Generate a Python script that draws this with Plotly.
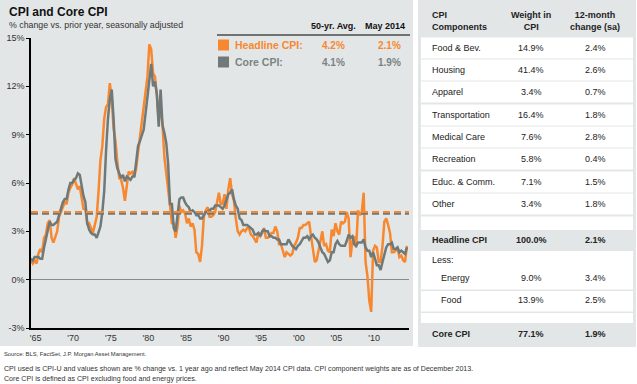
import plotly.graph_objects as go

W, H = 637, 384

# ---------------- data ----------------
# Quarterly readings (Feb, May, Aug, Nov), starting May 1964, ending May 2014
headline_cpi = [
    1.2, 1.0, 1.2,                 # 1964
    1.0, 1.6, 1.9, 1.7,            # 1965
    2.6, 2.8, 3.5, 3.7,            # 1966
    2.6, 2.3, 2.6, 3.0,            # 1967
    3.9, 4.2, 4.4, 4.8,            # 1968
    4.7, 5.4, 5.7, 5.9,            # 1969
    6.3, 6.0, 5.6, 5.8,            # 1970
    5.0, 4.4, 4.4, 3.4,            # 1971
    3.5, 3.2, 2.9, 3.4,            # 1972
    3.9, 5.5, 7.4, 8.3,            # 1973
    10.0, 10.7, 10.9, 12.2,        # 1974
    11.2, 9.4, 8.6, 7.3,           # 1975
    6.3, 6.2, 5.7, 4.9,            # 1976
    5.9, 6.7, 6.6, 6.7,            # 1977
    6.4, 6.9, 7.9, 8.9,            # 1978
    9.9, 10.8, 11.8, 12.6,         # 1979
    14.6, 14.3, 12.8, 12.6,        # 1980
    11.4, 9.8, 10.8, 9.6,          # 1981
    7.6, 6.7, 5.8, 4.6,            # 1982
    3.5, 3.5, 2.6, 3.3,            # 1983
    4.6, 4.2, 4.3, 4.1,            # 1984
    3.5, 3.8, 3.3, 3.5,            # 1985
    3.1, 1.7, 1.6, 1.1,            # 1986
    2.1, 3.9, 4.3, 4.5,            # 1987
    3.9, 3.9, 4.0, 4.2,            # 1988
    4.8, 5.4, 4.7, 4.7,            # 1989
    5.3, 4.4, 5.6, 6.3,            # 1990
    5.3, 4.9, 3.8, 3.0,            # 1991
    2.8, 3.0, 3.1, 3.0,            # 1992
    3.2, 3.2, 2.8, 2.7,            # 1993
    2.5, 2.3, 2.9, 2.7,            # 1994
    2.9, 3.2, 2.6, 2.6,            # 1995
    2.7, 2.9, 2.9, 3.3,            # 1996
    3.0, 2.2, 2.2, 1.8,            # 1997
    1.4, 1.7, 1.6, 1.5,            # 1998
    1.6, 2.1, 2.3, 2.6,            # 1999
    3.2, 3.2, 3.4, 3.4,            # 2000
    3.5, 3.6, 2.7, 1.9,            # 2001
    1.1, 1.2, 1.8, 2.2,            # 2002
    3.0, 2.1, 2.2, 1.8,            # 2003
    1.7, 3.1, 2.7, 3.5,            # 2004
    3.0, 2.8, 3.6, 3.5,            # 2005
    3.6, 4.2, 3.8, 1.4,            # 2006
    2.4, 2.7, 2.0, 4.3,            # 2007
    4.0, 4.2, 5.4, 1.1,            # 2008
    0.2, -1.3, -2.0, 1.8,          # 2009
    2.1, 2.0, 1.1, 1.1,            # 2010
    2.1, 3.6, 3.8, 3.4,            # 2011
    2.9, 1.7, 1.7, 1.8,            # 2012
    2.0, 1.4, 1.5, 1.2,            # 2013
    1.1, 2.1,                      # 2014
]
core_cpi = [
    1.3, 1.2, 1.4,                 # 1964
    1.4, 1.4, 1.3, 1.3,            # 1965
    2.0, 2.6, 3.2, 3.6,            # 1966
    3.4, 3.4, 3.5, 3.6,            # 1967
    4.0, 4.4, 4.8, 5.0,            # 1968
    5.0, 5.6, 6.0, 6.0,            # 1969
    6.2, 6.3, 6.6, 6.5,            # 1970
    5.8, 5.2, 4.8, 3.5,            # 1971
    3.1, 2.9, 2.8, 2.8,            # 1972
    2.6, 3.0, 3.3, 4.2,            # 1973
    5.5, 8.0, 10.0, 11.2,          # 1974
    11.8, 10.0, 7.5, 6.9,          # 1975
    6.6, 6.3, 6.5, 6.1,            # 1976
    6.4, 6.3, 6.2, 6.4,            # 1977
    6.4, 7.3, 8.3, 8.6,            # 1978
    8.9, 9.3, 10.3, 11.3,          # 1979
    12.2, 13.4, 12.0, 12.3,        # 1980
    11.5, 9.5, 11.8, 9.6,          # 1981
    9.1, 8.5, 7.2, 4.7,            # 1982
    4.7, 3.2, 3.0, 4.2,            # 1983
    5.0, 5.1, 5.1, 4.8,            # 1984
    4.6, 4.5, 4.2, 4.3,            # 1985
    4.2, 4.0, 4.0, 3.8,            # 1986
    3.8, 4.0, 4.2, 4.2,            # 1987
    4.3, 4.4, 4.4, 4.6,            # 1988
    4.6, 4.6, 4.5, 4.4,            # 1989
    4.6, 5.0, 5.3, 5.4,            # 1990
    5.6, 5.0, 4.6, 4.4,            # 1991
    3.8, 3.7, 3.4, 3.4,            # 1992
    3.4, 3.3, 3.2, 3.1,            # 1993
    2.8, 2.8, 2.9, 2.7,            # 1994
    3.0, 3.1, 3.0, 3.0,            # 1995
    2.7, 2.7, 2.6, 2.6,            # 1996
    2.5, 2.5, 2.2, 2.2,            # 1997
    2.2, 2.2, 2.5, 2.3,            # 1998
    2.1, 2.0, 1.9, 2.1,            # 1999
    2.2, 2.4, 2.6, 2.6,            # 2000
    2.7, 2.5, 2.7, 2.8,            # 2001
    2.6, 2.5, 2.3, 2.0,            # 2002
    1.7, 1.6, 1.3, 1.1,            # 2003
    1.2, 1.7, 1.7, 2.2,            # 2004
    2.4, 2.2, 2.1, 2.1,            # 2005
    2.1, 2.4, 2.8, 2.6,            # 2006
    2.7, 2.2, 2.1, 2.3,            # 2007
    2.3, 2.3, 2.5, 2.0,            # 2008
    1.8, 1.8, 1.4, 1.7,            # 2009
    1.3, 0.9, 0.9, 0.6,            # 2010
    1.1, 1.5, 2.0, 2.2,            # 2011
    2.2, 2.3, 1.9, 1.9,            # 2012
    2.0, 1.7, 1.8, 1.7,            # 2013
    1.6, 2.0,                      # 2014
]
start_year, start_month = 1964, 5

avg_50yr = {"Headline CPI": 4.2, "Core CPI": 4.1}
legend_names = ["Headline CPI:", "Core CPI:"]
legend_avg = ["4.2%", "4.1%"]
legend_latest = ["2.1%", "1.9%"]

y_ticks = [-3, 0, 3, 6, 9, 12, 15]
y_ticktext = ["-3%", "0%", "3%", "6%", "9%", "12%", "15%"]
x_tick_years = [1965, 1970, 1975, 1980, 1985, 1990, 1995, 2000, 2005, 2010]
x_ticktext = ["'65", "'70", "'75", "'80", "'85", "'90", "'95", "'00", "'05", "'10"]

components = ["Food & Bev.", "Housing", "Apparel", "Transportation",
              "Medical Care", "Recreation", "Educ. & Comm.", "Other"]
weights = ["14.9%", "41.4%", "3.4%", "16.4%", "7.6%", "5.8%", "7.1%", "3.4%"]
changes = ["2.4%", "2.6%", "0.7%", "1.8%", "2.8%", "0.4%", "1.5%", "1.8%"]
headline_row = ["Headline CPI", "100.0%", "2.1%"]
less_rows = [["Energy", "9.0%", "3.4%"], ["Food", "13.9%", "2.5%"]]
core_row = ["Core CPI", "77.1%", "1.9%"]

# ---------------- styles ----------------
ORANGE = "#f7882f"
GRAY = "#6f7979"
BG = "#e3e6e6"
TXT = "#222222"
FONT = "Liberation Sans, Arial, sans-serif"

dates = []
for i in range(len(headline_cpi)):
    m = start_month - 1 + 3 * i
    dates.append(f"{start_year + m // 12}-{m % 12 + 1:02d}-15")


def px(x):
    return x / W


def py(y):
    return 1 - y / H


fig = go.Figure()
fig.add_trace(go.Scatter(x=dates, y=headline_cpi, mode="lines",
                         line=dict(color=ORANGE, width=2.5), name="Headline CPI"))
fig.add_trace(go.Scatter(x=dates, y=core_cpi, mode="lines",
                         line=dict(color=GRAY, width=2.5), name="Core CPI"))

shapes = []
# chart background
shapes.append(dict(type="rect", xref="paper", yref="paper", x0=0, x1=px(413),
                   y0=py(346), y1=1, fillcolor=BG, line_width=0, layer="below"))
# table panel
shapes.append(dict(type="rect", xref="paper", yref="paper", x0=px(418), x1=px(636),
                   y0=py(347), y1=1, fillcolor=BG, line_width=0, layer="below"))
# average lines
shapes.append(dict(type="line", xref="x domain", yref="y", x0=0, x1=1,
                   y0=avg_50yr["Core CPI"], y1=avg_50yr["Core CPI"],
                   line=dict(color=GRAY, width=2.2, dash="7px,4px"), layer="above"))
shapes.append(dict(type="line", xref="x domain", yref="y", x0=0, x1=1,
                   y0=avg_50yr["Headline CPI"], y1=avg_50yr["Headline CPI"],
                   line=dict(color=ORANGE, width=2.2, dash="7px,4px"), layer="above"))

# legend block
shapes.append(dict(type="line", xref="paper", yref="paper", x0=px(217), x1=px(410),
                   y0=py(35), y1=py(35), line=dict(color="#000", width=1.2)))
legend_y = [45, 62]
for yy, col in zip(legend_y, [ORANGE, GRAY]):
    shapes.append(dict(type="rect", xref="paper", yref="paper", x0=px(218), x1=px(229),
                       y0=py(yy + 5.5), y1=py(yy - 5.5), fillcolor=col, line_width=0))


# table white cells
def cell(y0, y1):
    shapes.append(dict(type="rect", xref="paper", yref="paper", x0=px(421), x1=px(633),
                       y0=py(y1), y1=py(y0), fillcolor="white", line_width=0, layer="below"))


row_centers = [48, 70, 92, 115, 137, 159, 182, 204]
for c in row_centers:
    cell(c - 10.5, c + 10.5)
cell(216.5, 230)
cell(251, 289.5)
cell(291, 311.5)
cell(313, 323)

ann = []


def text(x, y, s, size=9, color=TXT, bold=False, xanchor="left", family=FONT):
    ann.append(dict(x=px(x), y=py(y), xref="paper", yref="paper",
                    text=f"<b>{s}</b>" if bold else s,
                    showarrow=False, xanchor=xanchor, yanchor="middle",
                    font=dict(size=size, color=color, family=family),
                    align=xanchor if xanchor != "center" else "center"))


# titles
text(7, 12, "CPI and Core CPI", size=12, color="#111", bold=True)
text(7, 25, "% change vs. prior year, seasonally adjusted", size=8.8, color="#333")

# legend texts
text(333, 26, "50-yr. Avg.", size=9, color="#111", bold=True, xanchor="center")
text(385, 26, "May 2014", size=9, color="#111", bold=True, xanchor="center")
for yy, col, nm, a, l in zip(legend_y, [ORANGE, "#7a8383"], legend_names, legend_avg, legend_latest):
    text(233, yy, nm, size=10.5, color=col, bold=True)
    text(333, yy, a, size=10, color=col, bold=True, xanchor="center")
    text(389, yy, l, size=10, color=col, bold=True, xanchor="center")

# table header
COL1, COL2, COL3 = 430, 531, 595
text(COL1, 21, "CPI<br>Components", size=9, bold=True)
text(COL2, 21, "Weight in<br>CPI", size=9, bold=True, xanchor="center")
text(COL3, 21, "12-month<br>change (sa)", size=9, bold=True, xanchor="center")
for c, nm, w, ch in zip(row_centers, components, weights, changes):
    text(COL1, c, nm)
    text(COL2, c, w, xanchor="center")
    text(COL3, c, ch, xanchor="center")
text(COL1, 240, headline_row[0], bold=True)
text(COL2, 240, headline_row[1], bold=True, xanchor="center")
text(COL3, 240, headline_row[2], bold=True, xanchor="center")
text(COL1, 260, "Less:")
for yy, row in zip([278, 300], less_rows):
    text(COL1 + 9, yy, row[0])
    text(COL2, yy, row[1], xanchor="center")
    text(COL3, yy, row[2], xanchor="center")
text(COL1, 334, core_row[0], bold=True)
text(COL2, 334, core_row[1], bold=True, xanchor="center")
text(COL3, 334, core_row[2], bold=True, xanchor="center")

# footer
text(2, 353.5, "Source: BLS, FactSet, J.P. Morgan Asset Management.", size=5.8, color="#333")
text(2, 369, "CPI used is CPI-U and values shown are % change vs. 1 year ago and reflect May 2014 CPI data. "
             "CPI component weights are as of December 2013.", size=7.1, color="#333")
text(2, 378.5, "Core CPI is defined as CPI excluding food and energy prices.", size=7.1, color="#333")

fig.update_layout(
    template="none",
    width=W, height=H,
    margin=dict(l=0, r=0, t=0, b=0, pad=0, autoexpand=False),
    paper_bgcolor="white",
    plot_bgcolor="rgba(0,0,0,0)",
    showlegend=False,
    shapes=shapes,
    annotations=ann,
    font=dict(family=FONT, size=9, color="#333"),
    xaxis=dict(domain=[px(31), px(409)], type="date", automargin=False,
               range=["1964-05-22", "2014-08-25"],
               tickvals=[f"{y}-01-01" for y in x_tick_years], ticktext=x_ticktext,
               showgrid=False, zeroline=False, showline=True, linecolor="#000", linewidth=1.5,
               ticks="", tickfont=dict(size=9, color="#333")),
    yaxis=dict(domain=[1 - 328 / H, 1 - 38 / H], range=[-3, 15], automargin=False,
               tickvals=y_ticks, ticktext=y_ticktext,
               showgrid=False, zeroline=True, zerolinecolor="#8a8a8a", zerolinewidth=1,
               showline=True, linecolor="#000", linewidth=1.5,
               ticks="outside", ticklen=3, tickcolor="#000", tickwidth=1,
               tickfont=dict(size=9, color="#333")),
)

fig.write_html("out.html", config={"displayModeBar": False},
               post_script="document.body.style.margin='0';document.body.style.overflow='hidden';")
